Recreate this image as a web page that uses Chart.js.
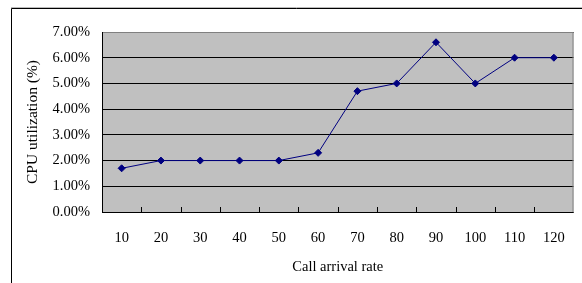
<!DOCTYPE html>
<html>
<head>
<meta charset="utf-8">
<script src="https://cdn.jsdelivr.net/npm/chart.js@4.4.0/dist/chart.umd.min.js"></script>
<style>
html,body{margin:0;padding:0;background:#fff;}
#wrap{width:582px;height:283px;position:relative;}
</style>
</head>
<body>
<div id="wrap"><canvas id="c" width="582" height="283"></canvas></div>
<script>
const categories = ['10','20','30','40','50','60','70','80','90','100','110','120'];
const cpuUtil = [1.7, 2.0, 2.0, 2.0, 2.0, 2.3, 4.7, 5.0, 6.6, 5.0, 6.0, 6.0];
const yTicks = [0, 1, 2, 3, 4, 5, 6, 7];
const xTitle = 'Call arrival rate';
const yTitle = 'CPU utilization (%)';

const FONT = "'Liberation Serif', 'Times New Roman', serif";

const framePlugin = {
  id: 'frame',
  beforeDraw(chart) {
    const ctx = chart.ctx;
    const a = chart.chartArea;
    ctx.save();
    ctx.strokeStyle = '#000';
    ctx.lineWidth = 1;
    ctx.beginPath();
    ctx.moveTo(11.5, 283);
    ctx.lineTo(11.5, 8.5);
    ctx.lineTo(582, 8.5);
    ctx.stroke();
    ctx.strokeStyle = '#bbb';
    ctx.beginPath();
    ctx.moveTo(11, 7.5);
    ctx.lineTo(582, 7.5);
    ctx.stroke();
    ctx.fillStyle = '#c0c0c0';
    ctx.fillRect(a.left, a.top, a.right - a.left, a.bottom - a.top);
    ctx.restore();
  },
  beforeDatasetsDraw(chart) {
    const ctx = chart.ctx;
    const a = chart.chartArea;
    const xs = chart.scales.x;
    ctx.save();
    ctx.strokeStyle = '#808080';
    ctx.lineWidth = 1;
    ctx.beginPath();
    ctx.moveTo(a.left, a.top + 0.5);
    ctx.lineTo(a.right - 0.5, a.top + 0.5);
    ctx.lineTo(a.right - 0.5, a.bottom);
    ctx.stroke();
    ctx.strokeStyle = '#000';
    ctx.beginPath();
    ctx.moveTo(a.left + 0.5, a.top);
    ctx.lineTo(a.left + 0.5, a.bottom + 0.5);
    ctx.lineTo(a.right, a.bottom + 0.5);
    ctx.stroke();
    ctx.beginPath();
    for (let i = 1; i < categories.length; i++) {
      const x = Math.round((xs.getPixelForValue(i - 1) + xs.getPixelForValue(i)) / 2) + 0.5;
      ctx.moveTo(x, a.bottom);
      ctx.lineTo(x, a.bottom - 5);
    }
    ctx.stroke();
    ctx.restore();
  }
};

new Chart(document.getElementById('c'), {
  type: 'line',
  data: {
    labels: categories,
    datasets: [{
      data: cpuUtil,
      borderColor: '#000080',
      backgroundColor: '#000080',
      borderWidth: 1,
      pointStyle: 'rectRot',
      pointRadius: 3.5,
      pointHoverRadius: 3.5,
      tension: 0,
      fill: false
    }]
  },
  options: {
    responsive: false,
    animation: false,
    devicePixelRatio: 1,
    layout: { padding: { left: 0, right: 6, top: 32, bottom: 0 } },
    plugins: { legend: { display: false }, tooltip: { enabled: false } },
    scales: {
      x: {
        type: 'category',
        offset: true,
        grid: { display: false, drawTicks: false },
        border: { display: false },
        ticks: { color: '#000', font: { family: FONT, size: 14.5 }, padding: 17, maxRotation: 0, autoSkip: false },
        title: { display: true, text: xTitle, color: '#000', font: { family: FONT, size: 14.5 }, padding: { top: 4, bottom: 7 } },
        afterFit(s) { s.height = 71; }
      },
      y: {
        min: 0, max: 7,
        afterBuildTicks(s) { s.ticks = yTicks.map(v => ({ value: v })); },
        grid: { color: '#000', lineWidth: 1, drawTicks: false },
        border: { display: false },
        ticks: {
          color: '#000', font: { family: FONT, size: 14.5 }, padding: 12,
          callback: v => v.toFixed(2) + '%'
        },
        title: { display: true, text: yTitle, color: '#000', font: { family: FONT, size: 15.5 }, padding: { top: 24, bottom: 0 } },
        afterFit(s) { s.width = 102; }
      }
    }
  },
  plugins: [framePlugin]
});
</script>
</body>
</html>
